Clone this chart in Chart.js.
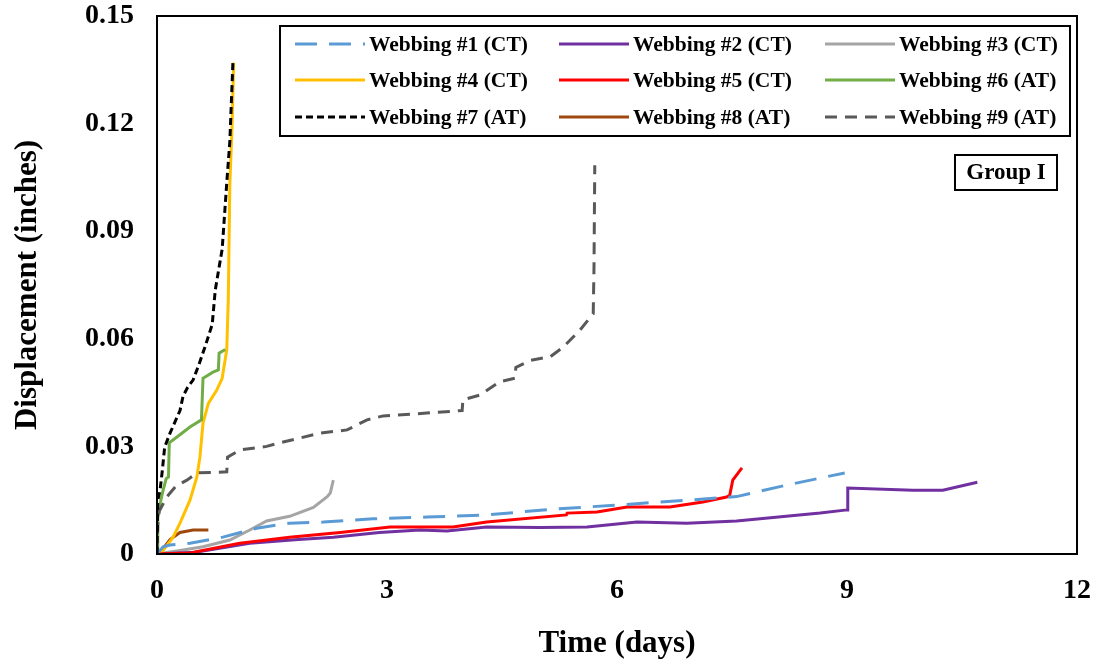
<!DOCTYPE html>
<html><head><meta charset="utf-8">
<script src="https://cdn.jsdelivr.net/npm/chart.js@4/dist/chart.umd.min.js"></script>
<style>html,body{margin:0;padding:0;background:#fff;}#wrap{width:1097px;height:666px;position:relative;}</style>
</head><body><div id="wrap"><canvas id="c" width="1097" height="666"></canvas></div>
<script>
const xTicks = [0, 3, 6, 9, 12];
const yTicks = [0, 0.03, 0.06, 0.09, 0.12, 0.15];
const labels = ["Webbing #1 (CT)","Webbing #2 (CT)","Webbing #3 (CT)","Webbing #4 (CT)","Webbing #5 (CT)","Webbing #6 (AT)","Webbing #7 (AT)","Webbing #8 (AT)","Webbing #9 (AT)"];

const t1 = [0,0.08,0.17,0.43,0.86,1.3,1.73,2.17,2.82,3.52,4.30,5.17,6.04,6.91,7.56,8.21,8.97];
const d1 = [0,0.002,0.0025,0.003,0.0047,0.0072,0.0086,0.0089,0.0098,0.0103,0.0109,0.0125,0.0137,0.015,0.016,0.0192,0.0226];
const t2 = [0,0.5,1.21,1.8,2.30,2.9,3.43,3.78,4.30,5.0,5.61,6.26,6.91,7.56,8.65,9.0,9.01,9.86,10.25,10.7];
const d2 = [0,0.0005,0.003,0.004,0.0047,0.006,0.0067,0.0064,0.0075,0.0074,0.0075,0.0089,0.0086,0.0092,0.0114,0.0123,0.0184,0.0178,0.0178,0.020];
const t3 = [0,0.3,0.6,0.95,1.21,1.43,1.73,2.04,2.22,2.26,2.30];
const d3 = [0,0.001,0.002,0.0039,0.0067,0.0092,0.0105,0.013,0.016,0.017,0.0206];
const t4 = [0,0.08,0.21,0.30,0.43,0.52,0.56,0.60,0.67,0.78,0.85,0.91,0.93,0.95,0.98,1.0];
const d4 = [0,0.001,0.0047,0.0086,0.015,0.0215,0.027,0.0365,0.042,0.0457,0.049,0.057,0.071,0.103,0.12,0.137];
const t5 = [0,0.43,1.08,1.73,2.39,3.04,3.86,4.3,5.34,5.35,5.74,6.13,6.69,7.12,7.43,7.47,7.51,7.63];
const d5 = [0,0.0003,0.003,0.0047,0.006,0.0075,0.0075,0.0089,0.0109,0.0114,0.0117,0.0131,0.0131,0.0145,0.0159,0.0164,0.0206,0.024];
const t6 = [0,0.01,0.04,0.08,0.12,0.15,0.16,0.26,0.43,0.58,0.60,0.73,0.80,0.81,0.89];
const d6 = [0,0.010,0.014,0.0178,0.021,0.0215,0.031,0.0326,0.0354,0.0374,0.049,0.0507,0.0513,0.056,0.057];
const t7 = [0,0.01,0.04,0.07,0.10,0.17,0.30,0.34,0.40,0.47,0.55,0.63,0.72,0.76,0.85,0.91,0.95,0.99];
const d7 = [0,0.015,0.0178,0.0234,0.0298,0.0337,0.040,0.044,0.0465,0.0485,0.053,0.058,0.064,0.0736,0.085,0.1035,0.115,0.137];
const t8 = [0,0.06,0.17,0.30,0.47,0.67];
const d8 = [0,0.001,0.004,0.006,0.0067,0.0067];
const t9 = [0,0.01,0.03,0.08,0.13,0.25,0.39,0.52,0.91,0.92,1.08,1.43,1.6,2.13,2.48,2.74,2.95,3.52,3.98,3.99,4.21,4.47,4.67,4.68,4.87,5.13,5.30,5.52,5.69,5.70,5.71];
const d9 = [0,0.008,0.012,0.014,0.016,0.019,0.0206,0.0226,0.0229,0.027,0.029,0.030,0.031,0.0337,0.0346,0.0374,0.0385,0.0393,0.040,0.043,0.0443,0.048,0.049,0.052,0.054,0.055,0.0577,0.0625,0.067,0.08,0.1084];

const times = [t1,t2,t3,t4,t5,t6,t7,t8,t9];
const disps = [d1,d2,d3,d4,d5,d6,d7,d8,d9];
const colors = ["#5B9BD5","#7030A0","#A5A5A5","#FFC000","#FF0000","#70AD47","#000000","#9E480E","#595959"];
const dashes = [[22,12],[],[],[],[],[],[7,4],[],[12,8]];
const drawOrder = [2,6,7,5,3,4,0,8,1];

const FONT = "'Liberation Serif','Times New Roman',serif";

const datasets = labels.map((lab,i)=>({
  label: lab,
  data: times[i].map((t,k)=>({x:t, y:disps[i][k]})),
  borderColor: colors[i],
  backgroundColor: colors[i],
  borderWidth: 3,
  borderDash: dashes[i],
  pointRadius: 0,
  showLine: true,
  fill: false,
  tension: 0,
  order: drawOrder[i]
}));

const legendPlugin = {
  id: 'customLegend',
  afterDraw(chart){
    const ctx = chart.ctx, a = chart.chartArea;
    ctx.save();
    ctx.strokeStyle = '#000'; ctx.lineWidth = 2; ctx.setLineDash([]);
    ctx.strokeRect(a.left, a.top, a.right - a.left, a.bottom - a.top);
    const bx = 280, by = 26, bw = 790, bh = 110;
    ctx.fillStyle = '#fff';
    ctx.fillRect(bx, by, bw, bh);
    ctx.strokeRect(bx, by, bw, bh);
    const colX = [295, 559, 825];
    const rowY = [44, 80, 117];
    ctx.font = "bold 21.5px " + FONT;
    ctx.textBaseline = 'middle';
    ctx.textAlign = 'left';
    chart.data.datasets.forEach((ds,i)=>{
      const cx = colX[i%3], cy = rowY[Math.floor(i/3)];
      ctx.strokeStyle = ds.borderColor; ctx.lineWidth = 3;
      ctx.setLineDash(ds.borderDash||[]);
      ctx.beginPath(); ctx.moveTo(cx, cy); ctx.lineTo(cx+70, cy); ctx.stroke();
      ctx.setLineDash([]);
      ctx.fillStyle = '#000';
      ctx.fillText(ds.label, cx+74, cy+1);
    });
    ctx.lineWidth = 2; ctx.strokeStyle = '#000';
    ctx.strokeRect(955, 155, 102, 35);
    ctx.font = "bold 23px " + FONT;
    ctx.textAlign = 'center';
    ctx.fillText('Group I', 1006, 173);
    ctx.restore();
  }
};

new Chart(document.getElementById('c'), {
  type: 'scatter',
  data: { datasets },
  options: {
    responsive: false,
    animation: false,
    layout: { padding: { left: 0, top: 16, right: 20, bottom: 0 } },
    plugins: { legend: { display: false }, tooltip: { enabled: false } },
    scales: {
      x: {
        type: 'linear', min: 0, max: 12,
        afterBuildTicks(s){ s.ticks = xTicks.map(v=>({value:v})); },
        afterFit(s){ s.height = 112; s.paddingLeft = 0; s.paddingRight = 0; },
        grid: { display: false, drawTicks: false },
        border: { display: false },
        ticks: { padding: 20, color: '#000', font: { family: FONT, weight: 'bold', size: 28 }, maxRotation: 0 },
        title: { display: true, text: 'Time (days)', color: '#000', padding: { top: 0, bottom: 3 }, font: { family: FONT, weight: 'bold', size: 31 } }
      },
      y: {
        type: 'linear', min: 0, max: 0.15,
        afterBuildTicks(s){ s.ticks = yTicks.map(v=>({value:v})); },
        afterFit(s){ s.width = 157; s.paddingTop = 0; s.paddingBottom = 0; },
        grid: { display: false, drawTicks: false },
        border: { display: false },
        ticks: { padding: 23, color: '#000', font: { family: FONT, weight: 'bold', size: 28 },
          callback: v => v === 0 ? '0' : v.toFixed(2) },
        title: { display: true, text: 'Displacement (inches)', color: '#000', padding: { bottom: 0, top: 9 }, font: { family: FONT, weight: 'bold', size: 31 } }
      }
    }
  },
  plugins: [legendPlugin]
});
</script></body></html>
